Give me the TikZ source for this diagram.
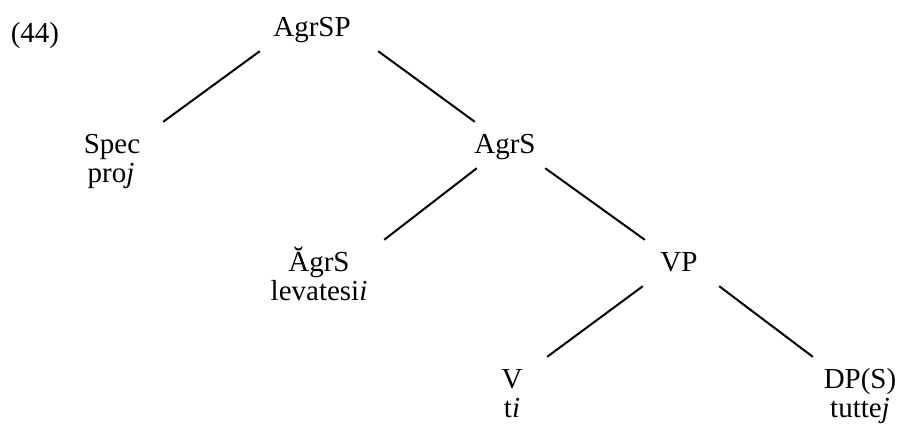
\documentclass[tikz,border=0pt]{standalone}
\usepackage{fontspec}
\setmainfont{Liberation Serif}
\usetikzlibrary{positioning}

\begin{document}
\begin{tikzpicture}[x=1pt, y=-1pt,
  cat/.style={font=\fontsize{29}{34}\selectfont, inner sep=0pt, anchor=base,
    text width=80pt, align=center, text height=32pt, text depth=14pt},
  word/.style={font=\fontsize{29}{34}\selectfont, inner sep=0pt, anchor=base},
  branch/.style={line width=2pt}]
\useasboundingbox (0,0) rectangle (903,438);
\node[word] (ex) at (35,43) {(44)};
\node[cat] (agrsp) at (312,37) {AgrSP};
\node[cat] (spec) at (112,154) {Spec};
\node[word] (specw) at (111,183) {pro\textit{j}};
\node[cat] (agrs) at (505,154) {AgrS};
\node[cat] (agrsh) at (319,272) {ĂgrS};
\node[word] (agrshw) at (319,301) {levatesi\textit{i}};
\node[cat] (vp) at (679,272) {VP};
\node[cat] (v) at (512,389) {V};
\node[word] (vw) at (512,418) {t\textit{i}};
\node[cat] (dp) at (860,389) {DP(S)};
\node[word] (dpw) at (860,418) {tutte\textit{j}};

\draw[branch] ([xshift=-12]agrsp.south west) -- ([xshift=11]spec.north east);
\draw[branch] ([xshift=26]agrsp.south east) -- ([xshift=10]agrs.north west);
\draw[branch] ([xshift=12]agrs.south west) -- ([xshift=25]agrsh.north east);
\draw[branch] (agrs.south east) -- ([xshift=6]vp.north west);
\draw[branch] ([xshift=4]vp.south west) -- ([xshift=-5]v.north east);
\draw[branch] (vp.south east) -- ([xshift=-7]dp.north west);
\end{tikzpicture}
\end{document}
